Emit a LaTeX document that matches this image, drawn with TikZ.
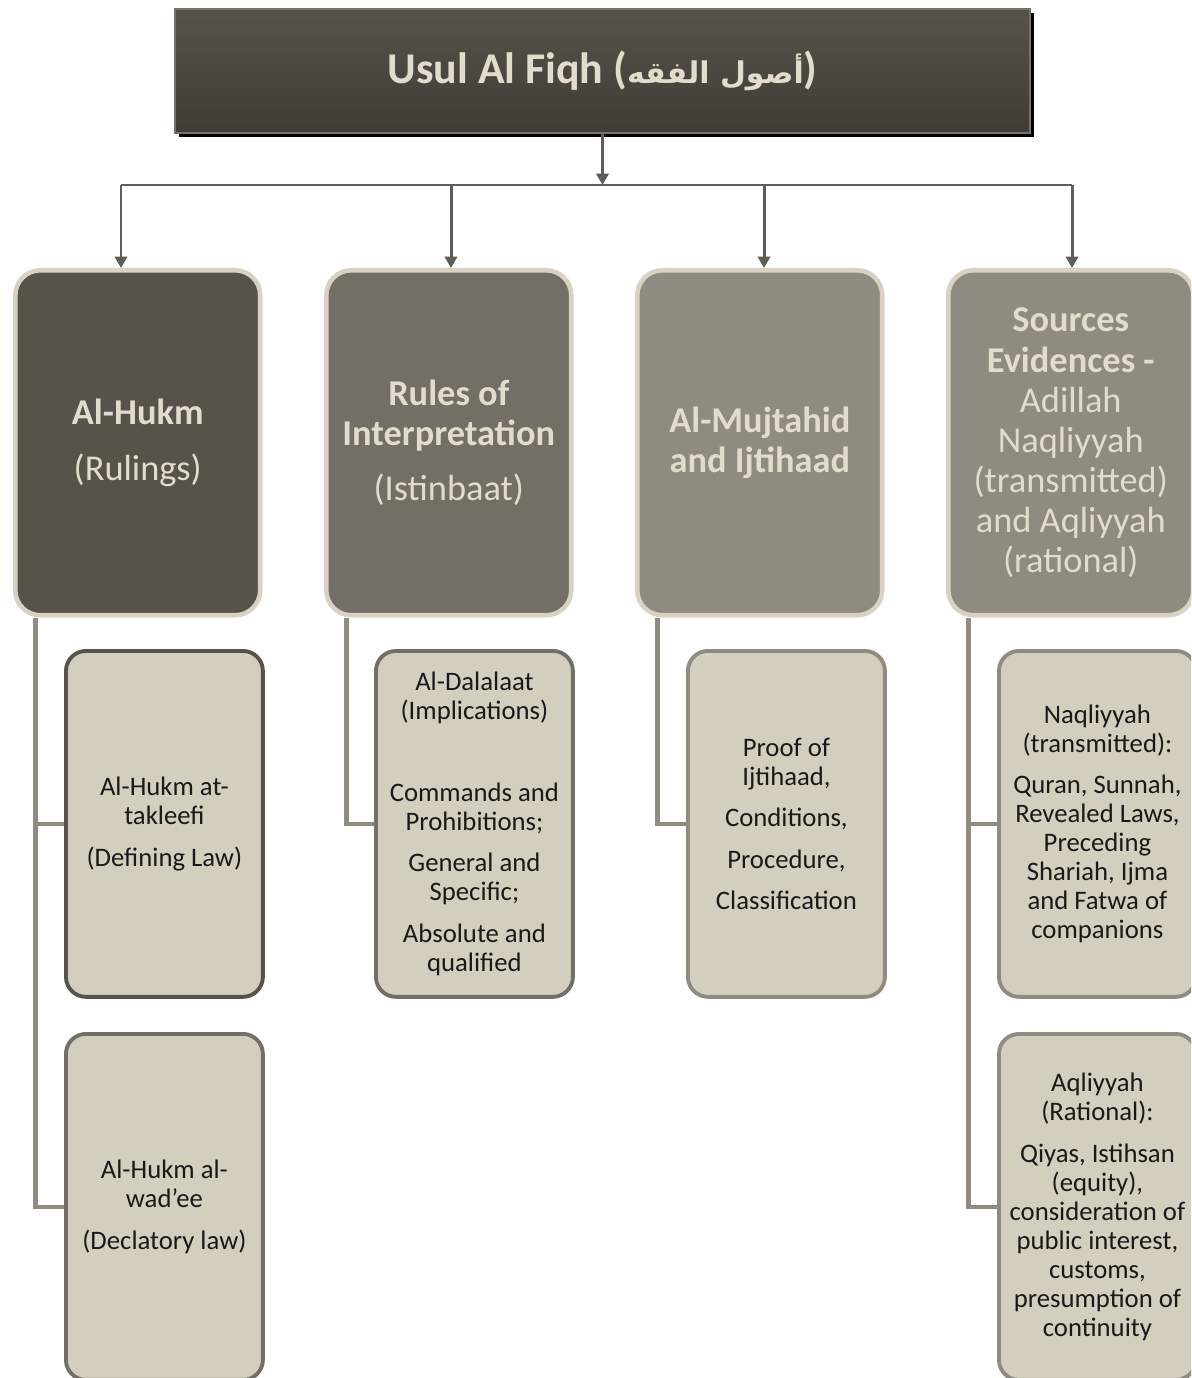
\documentclass[tikz,border=0pt]{standalone}
\usepackage{fontspec}
\setmainfont{Carlito}
\newfontfamily\arabicfont[Script=Arabic,Scale=0.68]{DejaVu Sans}
\TeXXeTstate=1
\usepackage{tikz}
\usetikzlibrary{arrows.meta,shadows}
\definecolor{hukmfill}{HTML}{57534B}
\definecolor{rulesfill}{HTML}{736F67}
\definecolor{greyfill}{HTML}{8F8B80}
\definecolor{sandfill}{HTML}{D4CEBF}
\definecolor{sandline}{HTML}{D9D2C3}
\definecolor{sandtext}{HTML}{E3DBCB}
\definecolor{arrowline}{HTML}{605C56}
\definecolor{titletop}{HTML}{57534B}
\definecolor{titlebot}{HTML}{3F3C36}
\definecolor{titleline}{HTML}{77736B}

\begin{document}
\begin{tikzpicture}[x=0.02cm,y=-0.02cm,
   titlebox/.style={draw=titleline,line width=0.8pt,top color=titletop,bottom color=titlebot,
      general shadow={fill=black,shadow xshift=2.5pt,shadow yshift=-2.5pt},
      minimum width=17.1cm,minimum height=2.48cm,text=sandtext,font=\fontsize{25}{30}\selectfont\bfseries},
   headbox/.style={draw=sandline,line width=2.6pt,rounded corners=0.5cm,text=sandtext,
      minimum width=4.9cm,minimum height=6.9cm,align=center,anchor=north west,inner sep=0pt,
      font=\fontsize{20.7}{22.8}\selectfont},
   subbox/.style={line width=2.2pt,rounded corners=0.4cm,fill=sandfill,text=black!90,
      minimum width=3.94cm,minimum height=6.92cm,align=center,anchor=north west,inner sep=0pt,
      font=\fontsize{15.2}{16.5}\selectfont},
   arr/.style={draw=arrowline,line width=1.7pt,-{Triangle[length=6.5pt,width=7pt]}},
   bus/.style={draw=arrowline,line width=1.7pt},
   branch/.style={draw=greyfill,line width=2.6pt}]
\useasboundingbox (0,0) rectangle (1191,1378);
\clip (0,0) rectangle (1191,1378);

\node[titlebox] (title) at (602.5,71) {Usul Al Fiqh ({\arabicfont\beginR أصول الفقه\endR})};

\foreach \c/\x/\t [count=\n] in
     {hukmfill/13/{\textbf{Al-Hukm}\\[9pt](Rulings)},
      rulesfill/324/{\textbf{Rules of}\\\textbf{Interpretation}\\[9pt](Istinbaat)},
      greyfill/635/{\textbf{Al-Mujtahid}\\\textbf{and Ijtihaad}},
      greyfill/946/{\textbf{Sources}\\\textbf{Evidences -}\\Adillah\\Naqliyyah\\(transmitted)\\and Aqliyyah\\(rational)}}
        \node[headbox,fill=\c](B\n) at (\x,268) {\t};

\foreach \x [count=\n] in {121,451,764,1072}
        \coordinate (a\n) at (\x,185);

\draw[arr] (title.south) -- (title.south |- a1);
\draw[bus] (a1) -- (a4);
\foreach \n in {1,...,4}
        \draw[arr] (a\n) -- (a\n |- B\n.north);

\node[subbox,draw=hukmfill] (takleefi) at (64,649) {Al-Hukm at-\\takleefi\\[7pt](Defining Law)};
\node[subbox,draw=rulesfill] (dalalaat) at (374,649) {Al-Dalalaat\\(Implications)\\[30pt]Commands and\\Prohibitions;\\[7pt]General and\\Specific;\\[7pt]Absolute and\\qualified};
\node[subbox,draw=greyfill] (ijtihaad) at (686,649) {Proof of\\Ijtihaad,\\[7pt]Conditions,\\[7pt]Procedure,\\[7pt]Classification};
\node[subbox,draw=greyfill] (naqli) at (997,649) {Naqliyyah\\(transmitted):\\[7pt]Quran, Sunnah,\\Revealed Laws,\\Preceding\\Shariah, Ijma\\and Fatwa of\\companions};
\node[subbox,draw=rulesfill] (wadee) at (64,1032) {Al-Hukm al-\\wad’ee\\[7pt](Declatory law)};
\node[subbox,draw=greyfill] (aqli) at (997,1032) {Aqliyyah\\(Rational):\\[7pt]Qiyas, Istihsan\\(equity),\\consideration of\\public interest,\\customs,\\presumption of\\continuity};

\draw[branch] ([xshift=0.45cm]B1.south west) |- (takleefi.west);
\draw[branch] ([xshift=0.45cm]B1.south west) |- (wadee.west);
\draw[branch] ([xshift=0.45cm]B2.south west) |- (dalalaat.west);
\draw[branch] ([xshift=0.45cm]B3.south west) |- (ijtihaad.west);
\draw[branch] ([xshift=0.45cm]B4.south west) |- (naqli.west);
\draw[branch] ([xshift=0.45cm]B4.south west) |- (aqli.west);
\end{tikzpicture}
\end{document}
